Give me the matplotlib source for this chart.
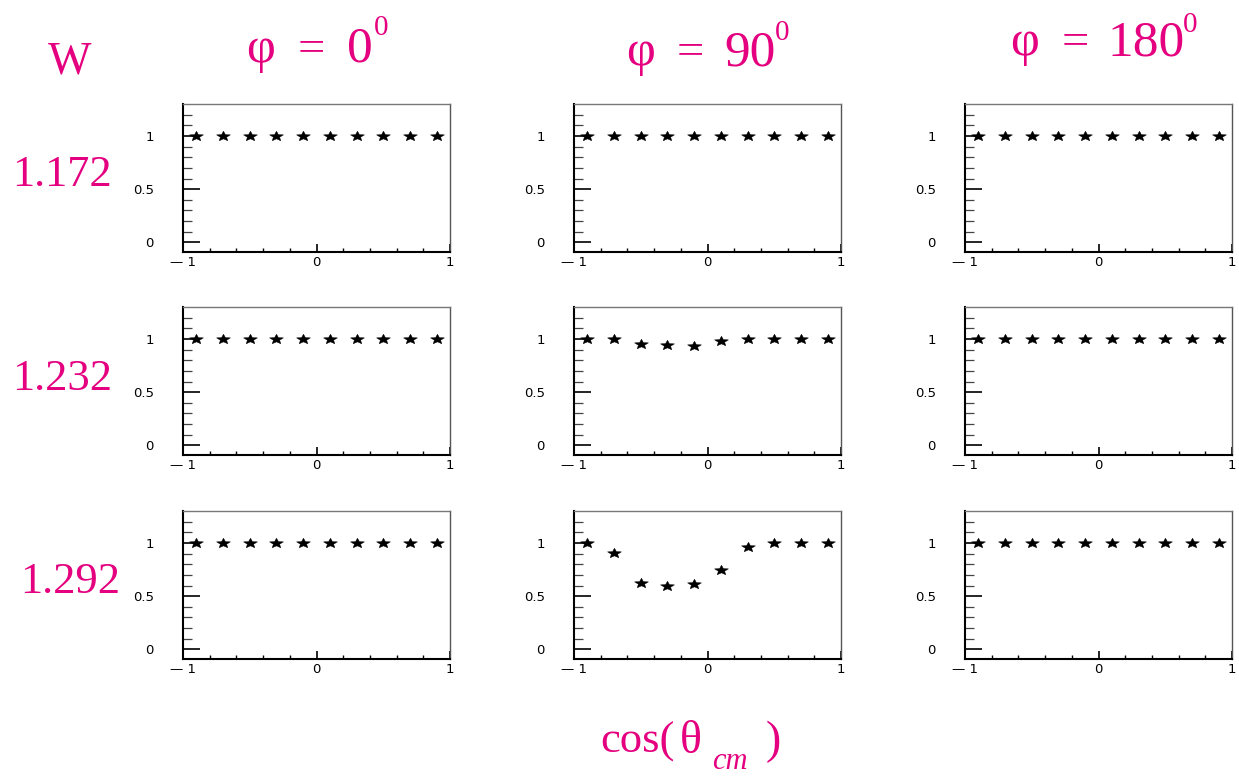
import matplotlib
matplotlib.use("Agg")
import matplotlib.pyplot as plt
import numpy as np
from matplotlib.path import Path

# ---------------- data ----------------
cos_theta = [-0.9, -0.7, -0.5, -0.3, -0.1, 0.1, 0.3, 0.5, 0.7, 0.9]
w_labels = ["1.172", "1.232", "1.292"]
phi_labels = ["0", "90", "180"]

ratio_w1172_phi0 = [1, 1, 1, 1, 1, 1, 1, 1, 1, 1]
ratio_w1172_phi90 = [1, 1, 1, 1, 1, 1, 1, 1, 1, 1]
ratio_w1172_phi180 = [1, 1, 1, 1, 1, 1, 1, 1, 1, 1]
ratio_w1232_phi0 = [1, 1, 1, 1, 1, 1, 1, 1, 1, 1]
ratio_w1232_phi90 = [1, 1, 0.95, 0.94, 0.93, 0.98, 1, 1, 1, 1]
ratio_w1232_phi180 = [1, 1, 1, 1, 1, 1, 1, 1, 1, 1]
ratio_w1292_phi0 = [1, 1, 1, 1, 1, 1, 1, 1, 1, 1]
ratio_w1292_phi90 = [1, 0.91, 0.627, 0.592, 0.617, 0.747, 0.965, 1, 1, 1]
ratio_w1292_phi180 = [1, 1, 1, 1, 1, 1, 1, 1, 1, 1]

grid = [
    [ratio_w1172_phi0, ratio_w1172_phi90, ratio_w1172_phi180],
    [ratio_w1232_phi0, ratio_w1232_phi90, ratio_w1232_phi180],
    [ratio_w1292_phi0, ratio_w1292_phi90, ratio_w1292_phi180],
]

xticks = [-1, 0, 1]
xticklabels = ["\u2014 1", "0", "1"]
yticks = [0, 0.5, 1]
yticklabels = ["0", "0.5", "1"]

# ---------------- layout ----------------
W, H = 1239, 779
fig = plt.figure(figsize=(W / 100, H / 100), dpi=100)
MAG = "#E4007F"
SERIF = "Liberation Serif"


def fx(x):
    return x / W


def fy(y):
    return 1 - y / H


col_left = [183, 574, 965]
row_top = [104, 307, 511]
ax_w, ax_h = 267, 148

# squashed star marker
star = Path.unit_regular_star(5, 0.45)
verts = star.vertices.copy()
verts[:, 1] *= 0.72
star_marker = Path(verts, star.codes)

for r in range(3):
    for c in range(3):
        ax = fig.add_axes([fx(col_left[c]), fy(row_top[r] + ax_h), ax_w / W, ax_h / H])
        ax.plot(cos_theta, grid[r][c], linestyle="none", marker=star_marker,
                markersize=10, color="black", markeredgewidth=0.3)
        ax.set_xlim(-1, 1)
        ax.set_ylim(-0.09, 1.3)
        ax.set_xticks(xticks)
        ax.set_xticklabels(xticklabels)
        ax.set_xticks(np.arange(-0.8, 0.81, 0.2), minor=True)
        ax.set_yticks(yticks)
        ax.set_yticklabels(yticklabels)
        ax.set_yticks(np.arange(0.1, 1.25, 0.1), minor=True)
        ax.tick_params(axis="y", which="major", direction="in", length=12,
                       width=1.2, pad=21, labelsize=9.5, left=True, right=False)
        ax.tick_params(axis="y", which="minor", direction="in", length=6.5,
                       width=0.9, color="#444444", left=True, right=False)
        ax.tick_params(axis="x", which="major", direction="in", length=5.8,
                       width=1.2, pad=3, labelsize=9.5, top=False)
        ax.tick_params(axis="x", which="minor", direction="in", length=3,
                       width=1.0, top=False)
        for lbl in ax.get_xticklabels() + ax.get_yticklabels():
            lbl.set_fontfamily("DejaVu Sans")
        ax.spines["left"].set_linewidth(1.5)
        ax.spines["bottom"].set_linewidth(1.5)
        ax.spines["left"].set_color("black")
        ax.spines["bottom"].set_color("black")
        ax.spines["top"].set_linewidth(1.0)
        ax.spines["right"].set_linewidth(1.0)
        ax.spines["top"].set_color("#777777")
        ax.spines["right"].set_color("#555555")


def txt(x, y, s, size, ha="center", style="normal"):
    fig.text(fx(x), fy(y), s, color=MAG, fontsize=size, family=SERIF,
             ha=ha, va="baseline", fontstyle=style)


# "W" header
txt(48, 73, "W", 33, ha="left")

# column titles: (phi center, '=' center, number center, baseline, sup center, sup baseline)
title_pos = [
    (261, 311, 360, 62, 381, 35),
    (641, 690, 750, 65, 782, 40),
    (1025, 1075, 1146, 55, 1190, 32),
]
for lab, (xp, xe, xn, base, xs, bs) in zip(phi_labels, title_pos):
    txt(xp, base, "\u03c6", 36)
    txt(xe, base, "=", 35)
    txt(xn, base, lab, 37)
    txt(xs, bs, "0", 21)

# row labels
row_pos = [(12, 186), (12, 390), (20, 593)]
for lab, (x, y) in zip(w_labels, row_pos):
    txt(x, y, lab, 32, ha="left")

# bottom axis title cos(theta_cm)
txt(600, 753, "cos(", 32, ha="left")
txt(680, 753, "\u03b8", 33, ha="left")
txt(712, 769, "cm", 22, ha="left", style="italic")
txt(766, 753, ")", 33, ha="left")

fig.savefig("out.png", dpi=100, facecolor="white")
